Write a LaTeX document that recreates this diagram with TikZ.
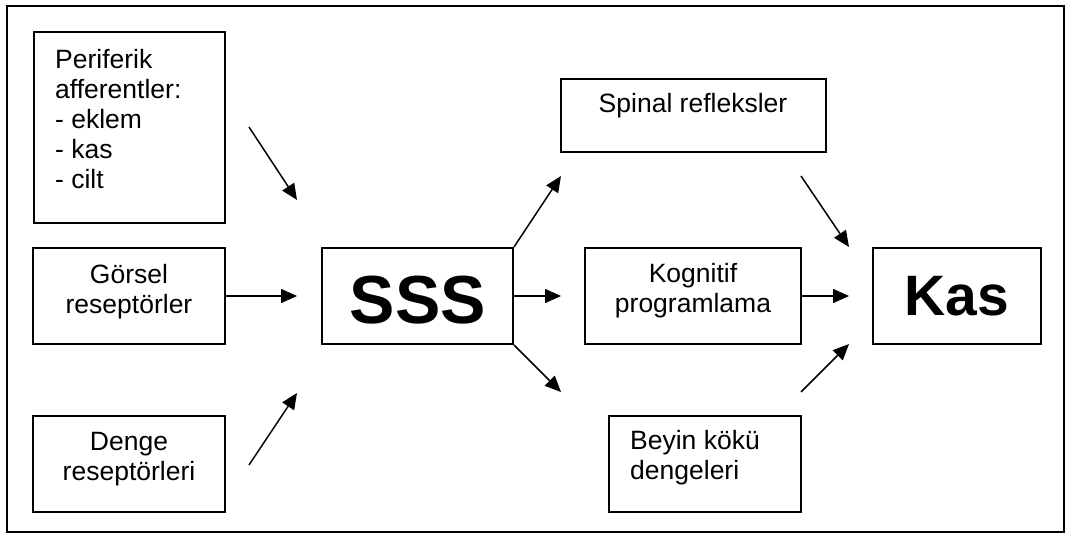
\documentclass[tikz,border=0pt]{standalone}
\usepackage{fontspec}
\setmainfont{Liberation Sans}
\usetikzlibrary{arrows.meta}
\tikzset{
  box/.style={draw, line width=2pt, inner sep=0pt},
  txt/.style={inner sep=0pt, font=\fontsize{26.5}{30}\selectfont},
  big/.style={inner sep=0pt, font=\fontsize{68}{80}\selectfont\bfseries},
  kasfont/.style={inner sep=0pt, font=\fontsize{57}{66}\selectfont\bfseries},
  arr/.style={line width=1.5pt, -{Triangle[length=16pt,width=14pt]}},
  frame/.style={draw, line width=1.8pt}
}
\newcommand{\fl}{\rule{0pt}{20pt}}
\begin{document}
\begin{tikzpicture}[x=1pt,y=-1pt]
\useasboundingbox (0,0) rectangle (1066,538);
\draw[frame] (7,6) rectangle (1064,532);
% boxes
\node[box, minimum width=191pt, minimum height=191pt] (peri) at (129.5,127.5) {};
\node[box, minimum width=192pt, minimum height=96pt] (gorsel) at (129,296) {};
\node[box, minimum width=192pt, minimum height=96pt] (denge) at (129,464) {};
\node[box, minimum width=191pt, minimum height=96pt] (sss) at (417.5,296) {};
\node[box, minimum width=265pt, minimum height=73pt] (spinal) at (693.5,115.5) {};
\node[box, minimum width=216pt, minimum height=96pt] (kog) at (693,296) {};
\node[box, minimum width=192pt, minimum height=96pt] (beyin) at (705,464) {};
\node[box, minimum width=168pt, minimum height=96pt] (kas) at (957,296) {};
% texts
\node[txt, anchor=north west, align=left] (periT) at (55,48) {\fl Periferik\\afferentler:\\- eklem\\- kas\\- cilt};
\node[txt, anchor=north, align=center] (gorselT) at (129,263) {\fl Görsel\\reseptörler};
\node[txt, anchor=north, align=center] (dengeT) at (129,430) {\fl Denge\\reseptörleri};
\node[txt, anchor=north, align=center] (spinalT) at (693,92) {\fl Spinal refleksler};
\node[txt, anchor=north, align=center] (kogT) at (693,262) {\fl Kognitif\\programlama};
\node[txt, anchor=north west, align=left] (beyinT) at (630,429) {\fl Beyin kökü\\dengeleri};
\node[big, anchor=base] (sssT) at (418,323) {SSS};
\node[kasfont, anchor=base] (kasT) at (957,315) {Kas};
% free ends
\coordinate (a1s) at (249,127);
\coordinate (a1e) at (297,200);
\coordinate (a2e) at (297,296);
\coordinate (a3s) at (249,465);
\coordinate (a3e) at (297,393);
\coordinate (b1e) at (561,176);
\coordinate (b2e) at (561,296);
\coordinate (b3e) at (561,392);
\coordinate (c1s) at (801,176);
\coordinate (c1e) at (849,247);
\coordinate (c2e) at (849,296);
\coordinate (c3s) at (801,392);
\coordinate (c3e) at (849,344);
% connectors
\draw[arr] (a1s) -- (a1e);
\draw[arr] (gorsel.east) -- (a2e);
\draw[arr] (a3s) -- (a3e);
\draw[arr] (sss.north east) -- (b1e);
\draw[arr] (sss.east) -- (b2e);
\draw[arr] (sss.south east) -- (b3e);
\draw[arr] (c1s) -- (c1e);
\draw[arr] (kog.east) -- (c2e);
\draw[arr] (c3s) -- (c3e);
\end{tikzpicture}
\end{document}
